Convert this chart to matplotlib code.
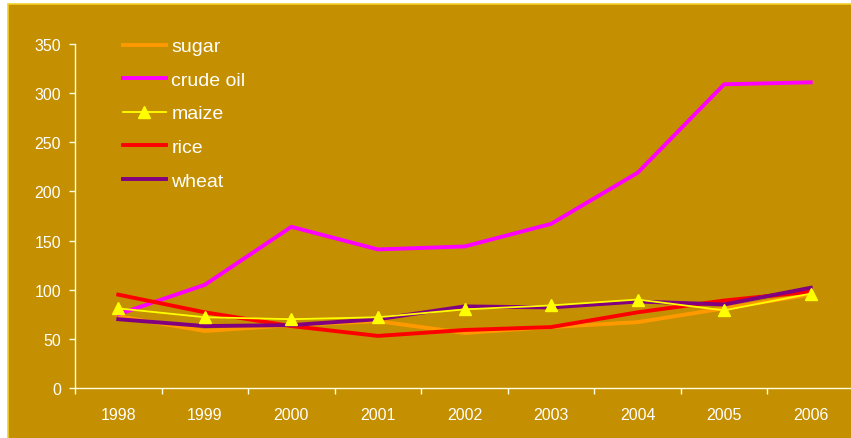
import matplotlib.pyplot as plt
from matplotlib.patches import Rectangle
from matplotlib.ticker import FixedLocator

plt.rcParams['font.family'] = ['Liberation Sans', 'DejaVu Sans']

years = ['1998', '1999', '2000', '2001', '2002', '2003', '2004', '2005', '2006']
sugar = [73, 58, 64, 68, 56, 62, 67, 81, 95]
crude_oil = [75, 105, 164, 141, 144, 167, 219, 309, 311]
maize = [81, 72, 70, 72, 80, 84, 90, 79, 96]
rice = [95, 77, 63, 53, 59, 62, 77, 89, 98]
wheat = [70, 63, 64, 70, 83, 82, 88, 85, 102]

bg = '#C48F00'
axis_col = '#FFFFE0'

fig = plt.figure(figsize=(8.51, 4.39), dpi=100, facecolor='white')
# chart area with thin yellow border
fig.add_artist(Rectangle((8 / 851, -0.01), 1.0, 1 - 5 / 439 + 0.01,
                         transform=fig.transFigure, facecolor=bg,
                         edgecolor='#F2D12A', linewidth=1.2, zorder=-10))

ax = fig.add_axes([75 / 851, 50 / 439, 779 / 851, 344 / 439])
ax.patch.set_alpha(0)

x = range(len(years))
ax.plot(x, sugar, color='#FF9900', lw=2.8, label='sugar', zorder=2)
ax.plot(x, crude_oil, color='#FF00FF', lw=2.8, label='crude oil', zorder=2)
ax.plot(x, rice, color='#FF0000', lw=2.8, label='rice', zorder=2)
ax.plot(x, wheat, color='#800080', lw=2.8, label='wheat', zorder=2)
ax.plot(x, maize, color='#FFFF00', lw=1.3, marker='^', markersize=8,
        label='maize', zorder=3)

ax.set_xlim(-0.5, 8.5)
ax.set_ylim(0, 350)
ax.set_yticks(range(0, 351, 50))
ax.set_xticks(list(x))
ax.set_xticklabels(years)
ax.xaxis.set_minor_locator(FixedLocator([i - 0.5 for i in range(10)]))

for side in ['top', 'right']:
    ax.spines[side].set_visible(False)
for side in ['left', 'bottom']:
    ax.spines[side].set_color(axis_col)
    ax.spines[side].set_linewidth(1.0)

ax.tick_params(axis='y', colors=axis_col, labelcolor='white', length=4,
               width=1.0, pad=6, labelsize=11.5)
ax.tick_params(axis='x', which='major', length=0, pad=14, labelcolor='white',
               labelsize=11.5)
ax.tick_params(axis='x', which='minor', colors=axis_col, length=4, width=1.0)

handles, labels = ax.get_legend_handles_labels()
order = [0, 1, 4, 2, 3]
leg = ax.legend([handles[i] for i in order], [labels[i] for i in order],
                loc='upper left', bbox_to_anchor=(115 / 851, 1 - 31 / 439),
                bbox_transform=fig.transFigure, frameon=False,
                fontsize=14, handlelength=2.2, handletextpad=0.3,
                labelspacing=0.82, borderaxespad=0)
for t in leg.get_texts():
    t.set_color('white')

fig.savefig('out.png', dpi=100, facecolor='white')
